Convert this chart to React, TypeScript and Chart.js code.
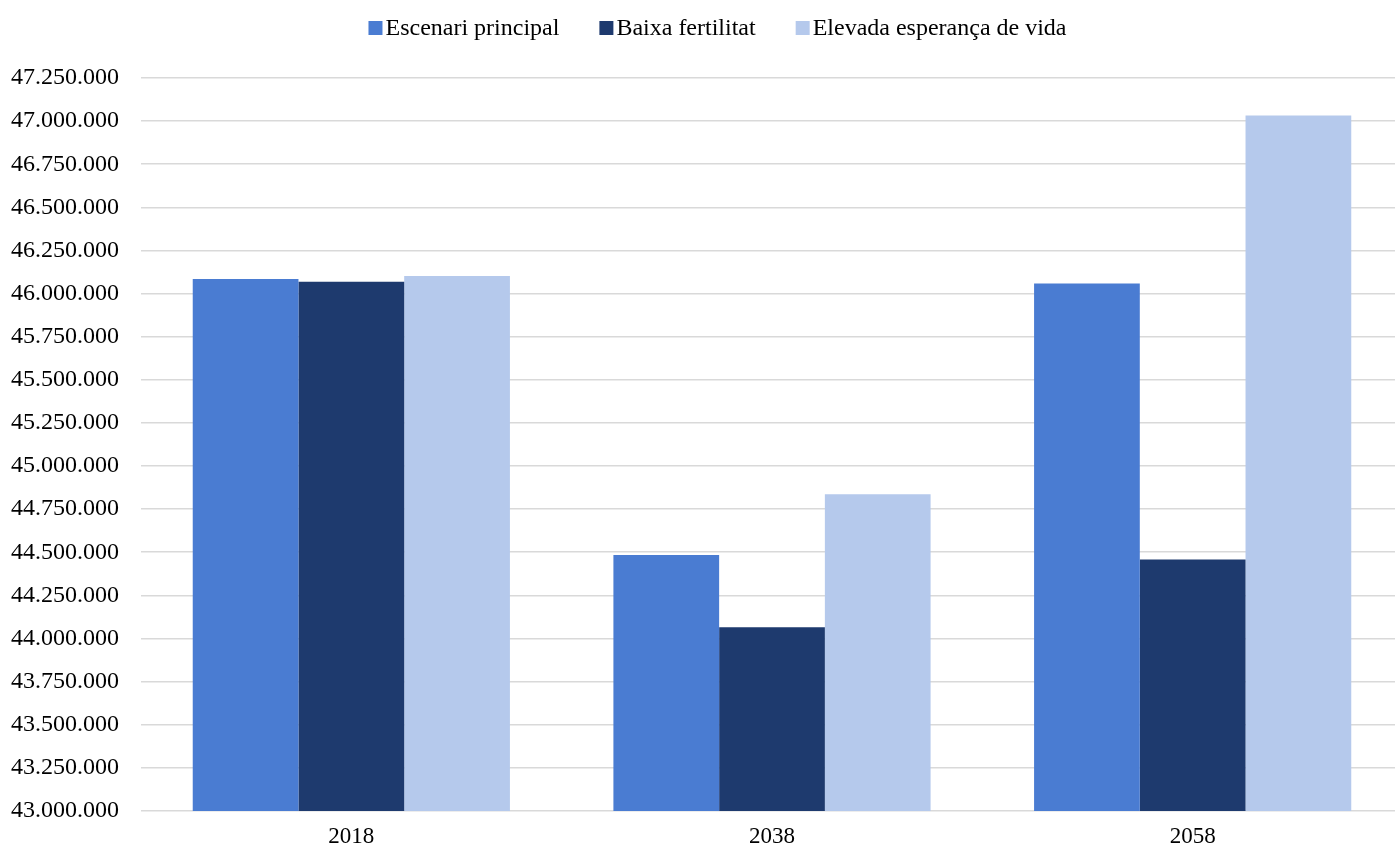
import React, { useEffect, useRef } from "react";
import { Chart, registerables } from "chart.js";

Chart.register(...registerables);

// Population projections by scenario
const categories = ["2018", "2038", "2058"];
const seriesNames = ["Escenari principal", "Baixa fertilitat", "Elevada esperança de vida"];
const escenariPrincipal = [46084000, 44485000, 46058000];
const baixaFertilitat = [46068000, 44066000, 44458000];
const elevadaEsperanca = [46102000, 44837000, 47033000];
const seriesColors = ["#4a7cd2", "#1e3a6e", "#b5c9ec"];

const yMin = 43000000;
const yMax = 47250000;
const yStep = 250000;

const FONT = "'Liberation Serif', 'Times New Roman', serif";

const formatThousands = (v: number) =>
  Math.round(v).toString().replace(/\B(?=(\d{3})+(?!\d))/g, ".");

// Legend row drawn above the plot: small square swatch, tight gap, label
const topLegend = {
  id: "topLegend",
  afterDraw(chart: any) {
    const ctx = chart.ctx as CanvasRenderingContext2D;
    const box = 14;
    const gap = 3;
    const spacing = 40;
    ctx.save();
    ctx.font = `24px ${FONT}`;
    ctx.textBaseline = "middle";
    const datasets = chart.data.datasets;
    const widths = datasets.map((d: any) => box + gap + ctx.measureText(d.label).width);
    const total = widths.reduce((a: number, b: number) => a + b, 0) + spacing * (datasets.length - 1);
    let x = (1395 - total) / 2 + 20;
    const cy = 28;
    datasets.forEach((d: any, i: number) => {
      ctx.fillStyle = d.backgroundColor;
      ctx.fillRect(x, cy - box / 2, box, box);
      ctx.fillStyle = "#000";
      ctx.textAlign = "left";
      ctx.fillText(d.label, x + box + gap, cy + 1);
      x += widths[i] + spacing;
    });
    ctx.restore();
  },
};

export default function App() {
  const ref = useRef<HTMLCanvasElement>(null);

  useEffect(() => {
    if (!ref.current) return;
    const values = [escenariPrincipal, baixaFertilitat, elevadaEsperanca];
    const chart = new Chart(ref.current, {
      type: "bar",
      data: {
        labels: categories,
        datasets: seriesNames.map((name, i) => ({
          label: name,
          data: values[i],
          backgroundColor: seriesColors[i],
          borderWidth: 0,
          categoryPercentage: 0.754,
          barPercentage: 1,
        })),
      },
      options: {
        responsive: false,
        animation: false,
        devicePixelRatio: 1,
        layout: { padding: { top: 78, right: 0, left: 0, bottom: 0 } },
        plugins: {
          legend: { display: false },
          tooltip: { enabled: false },
        },
        scales: {
          x: {
            grid: { display: false, drawTicks: false },
            border: { display: false },
            ticks: {
              color: "#000",
              font: { family: FONT, size: 23 },
              padding: 12,
            },
            afterFit(scale: any) {
              scale.height = 39;
            },
          },
          y: {
            min: yMin,
            max: yMax,
            grid: { color: "#d9d9d9", lineWidth: 1.6, drawTicks: false },
            border: { display: false },
            ticks: {
              stepSize: yStep,
              color: "#000",
              font: { family: FONT, size: 24 },
              padding: 22,
              callback: (v: any) => formatThousands(Number(v)),
            },
            afterFit(scale: any) {
              scale.width = 141;
            },
          },
        },
      },
      plugins: [topLegend],
    });
    return () => chart.destroy();
  }, []);

  return (
    <div
      style={{
        position: "absolute",
        left: 0,
        top: 0,
        width: 1395,
        height: 850,
        overflow: "hidden",
        background: "#fff",
      }}
    >
      <canvas ref={ref} width={1403} height={850} style={{ display: "block" }} />
    </div>
  );
}
